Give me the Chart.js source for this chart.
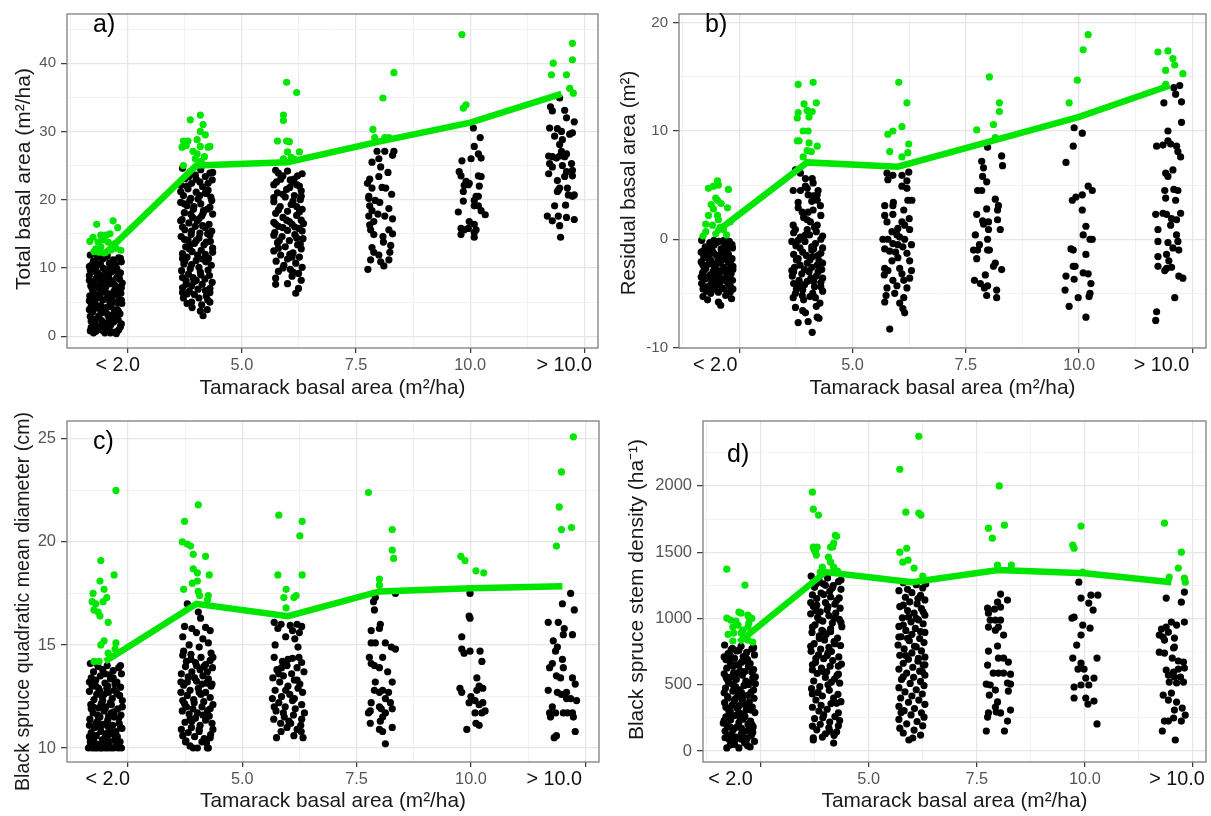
<!DOCTYPE html>
<html>
<head>
<meta charset="utf-8">
<script src="https://cdn.jsdelivr.net/npm/chart.js@4.4.1/dist/chart.umd.min.js"></script>
<style>
  html, body { margin: 0; padding: 0; background: #fff; }
  body { width: 1211px; height: 816px; position: relative; overflow: hidden; }
  .panel { position: absolute; }
  .panel canvas { display: block; }
</style>
</head>
<body>
<div class="panel" style="left:0;top:0"><canvas id="pa" width="605" height="400"></canvas></div>
<div class="panel" style="left:605px;top:0"><canvas id="pb" width="606" height="400"></canvas></div>
<div class="panel" style="left:0;top:400px"><canvas id="pc" width="605" height="416"></canvas></div>
<div class="panel" style="left:605px;top:400px"><canvas id="pd" width="606" height="416"></canvas></div>
<script>
// Tamarack basal-area classes (x position of each jittered column)
const classX = [2, 4, 6, 8, 10, 12];
const xTickValues = [2.5, 5, 7.5, 10, 12.5];
const xTickLabels = ['< 2.0', '5.0', '7.5', '10.0', '> 10.0'];
const xMinorValues = [1.25, 3.75, 6.25, 8.75, 11.25];

// ---- a) Total basal area (m²/ha) ----
const aLine = [12.1, 25.0, 25.5, 28.5, 31.3, 35.5];
const aYTicks = [0, 10, 20, 30, 40];
const aYMinor = [5, 15, 25, 35, 45];
// points per class as [x jitter, value]
const aBlack = [
  [[-0.32,11.9],[0.05,11.8],[-0.15,11.6],[0.3,11.5],[-0.05,11.3],[0.18,11.2],[-0.25,11.0],[0.36,10.9],[0.1,10.7],[-0.1,10.6],
   [-0.3,10.4],[0.12,10.2],[-0.2,10.1],[0.26,9.9],[0.0,9.8],[0.22,9.6],[-0.28,9.5],[0.34,9.3],[0.04,9.2],[-0.12,9.0],
   [-0.34,8.9],[0.08,8.7],[-0.18,8.6],[0.32,8.4],[-0.06,8.3],[0.16,8.1],[-0.24,8.0],[0.38,7.8],[0.12,7.7],[-0.08,7.5],
   [-0.31,7.4],[0.02,7.2],[-0.14,7.1],[0.28,6.9],[-0.02,6.8],[0.2,6.6],[-0.26,6.5],[0.35,6.3],[0.08,6.2],[-0.11,6.0],
   [-0.33,5.9],[0.06,5.7],[-0.16,5.6],[0.31,5.4],[-0.04,5.3],[0.17,5.1],[-0.23,5.0],[0.37,4.8],[0.11,4.7],[-0.09,4.5],
   [-0.3,4.4],[0.03,4.2],[-0.19,4.1],[0.27,3.9],[0.0,3.8],[0.21,3.6],[-0.27,3.5],[0.33,3.3],[0.06,3.2],[-0.13,3.0],
   [-0.32,2.9],[0.09,2.7],[-0.17,2.6],[0.29,2.4],[-0.07,2.3],[0.19,2.1],[-0.22,2.0],[0.36,1.8],[0.13,1.7],[-0.1,1.5],
   [-0.3,1.3],[0.04,1.2],[-0.15,1.0],[0.3,0.9],[-0.04,0.8],[0.22,0.6],[-0.25,0.5],[0.25,0.4],[-0.2,0.7],[0.12,0.5],
   [0.02,11.6],[-0.22,10.8],[0.24,10.5],[-0.04,10.0],[0.14,9.4],[-0.32,9.7],[0.3,8.8],[-0.1,8.2],[0.06,7.9],[-0.28,7.0],
   [0.24,7.3],[0.0,6.5],[-0.2,6.1],[0.14,5.8],[-0.34,5.2],[0.28,4.9],[-0.05,4.0],[0.17,3.1],[-0.25,2.4],[0.0,1.9],
   [0.34,11.4],[-0.18,11.9],[0.18,10.4],[-0.34,10.2],[0.06,9.6],[-0.16,9.3],[0.26,8.6],[-0.02,8.9],[-0.34,8.2],[0.2,7.6],
   [-0.18,7.3],[0.36,7.1],[-0.08,6.6],[0.24,6.1],[-0.3,5.6],[0.04,5.5],[0.36,5.3],[-0.2,4.6],[0.14,4.3],[-0.34,3.9],
   [0.3,3.6],[-0.08,3.4],[0.22,2.8],[-0.3,2.2],[0.06,2.0],[0.34,1.4],[-0.18,1.3],[0.1,0.9],[-0.32,0.8],[0.0,0.5]],
  [[-0.3,24.6],[0.1,24.4],[-0.12,24.1],[0.3,23.9],[-0.02,23.6],[0.2,23.4],[-0.24,23.1],[0.35,22.9],[0.08,22.6],[-0.1,22.4],
   [-0.33,22.1],[0.14,21.9],[-0.18,21.6],[0.26,21.4],[0.0,21.1],[0.22,20.9],[-0.28,20.6],[0.32,20.4],[0.04,20.1],[-0.14,19.9],
   [-0.34,19.6],[0.1,19.4],[-0.2,19.1],[0.3,18.9],[-0.06,18.6],[0.16,18.4],[-0.26,18.1],[0.36,17.9],[0.12,17.6],[-0.08,17.4],
   [-0.31,17.1],[0.02,16.9],[-0.16,16.6],[0.28,16.4],[-0.02,16.1],[0.2,15.9],[-0.25,15.6],[0.34,15.4],[0.08,15.1],[-0.11,14.9],
   [-0.33,14.6],[0.06,14.4],[-0.18,14.1],[0.31,13.9],[-0.04,13.6],[0.17,13.4],[-0.23,13.1],[0.36,12.9],[0.11,12.6],[-0.09,12.4],
   [-0.3,12.1],[0.03,11.9],[-0.2,11.6],[0.27,11.4],[0.0,11.1],[0.21,10.9],[-0.27,10.6],[0.33,10.4],[0.06,10.1],[-0.13,9.9],
   [-0.32,9.6],[0.09,9.4],[-0.17,9.1],[0.29,8.9],[-0.07,8.6],[0.19,8.4],[-0.22,8.1],[0.35,7.9],[0.13,7.6],[-0.1,7.4],
   [-0.3,7.1],[0.04,6.9],[-0.15,6.6],[0.3,6.4],[-0.04,6.1],[0.22,5.9],[-0.28,5.6],[0.25,5.3],[-0.1,5.0],[0.12,4.6],
   [-0.09,4.2],[0.09,3.7],[0.15,3.0],[0.24,3.9],[-0.2,4.8],
   [0.0,23.0],[-0.2,22.0],[0.2,21.0],[-0.05,19.0],[0.15,18.0],[-0.3,16.0],[0.25,15.0],[0.0,14.0],[-0.15,12.8],[0.2,12.0],
   [-0.25,11.0],[0.1,9.0],[-0.05,8.0],[0.3,7.0],[-0.2,6.2],
   [0.36,24.0],[-0.16,23.4],[0.26,22.4],[-0.34,21.2],[0.08,20.6],[-0.12,20.2],[0.34,19.9],[-0.26,19.4],[0.24,18.6],[-0.12,17.9],
   [0.06,17.2],[-0.34,16.9],[0.14,16.2],[-0.1,15.4],[0.3,14.8],[-0.26,14.2],[0.22,13.8],[-0.14,13.4],[0.36,12.3],[-0.3,11.4],
   [0.14,11.3],[-0.1,10.5],[0.26,9.7],[-0.3,8.6],[0.0,8.2],[0.2,6.7],[-0.22,7.6],[0.06,5.6],[-0.3,6.4],[0.3,5.0]],
  [[-0.26,24.3],[-0.2,23.9],[0.0,24.2],[0.22,23.5],[0.26,22.0],[-0.15,23.0],[0.1,22.6],[-0.3,22.2],[0.05,21.8],[0.3,21.3],
   [-0.22,21.0],[0.15,20.6],[-0.05,20.4],[0.28,20.0],[-0.3,19.7],[0.08,19.3],[-0.16,19.0],[0.32,18.6],[0.0,18.3],[-0.26,18.0],
   [0.2,17.7],[-0.1,17.4],[0.3,17.0],[-0.3,16.7],[0.1,16.4],[-0.2,16.1],[0.25,15.8],[0.0,15.5],[-0.28,15.2],[0.16,14.9],
   [-0.12,14.6],[0.34,14.3],[0.04,14.0],[-0.22,13.7],[0.22,13.4],[-0.05,13.1],[0.3,12.8],[-0.3,12.5],[0.12,12.2],[-0.15,11.9],
   [0.26,11.6],[0.0,11.3],[-0.25,11.0],[0.18,10.7],[-0.08,10.4],[0.32,10.1],[0.06,9.8],[-0.2,9.5],[0.24,9.2],[0.1,8.8],
   [-0.26,8.5],[-0.26,7.6],[0.24,7.0],[0.0,7.7],[0.18,6.3],[0.3,8.2],
   [0.14,23.0],[-0.1,20.8],[0.2,19.0],[-0.02,17.0],[0.16,16.0],[-0.18,14.0],[0.05,12.0],[0.28,13.5],[-0.1,10.0],[0.12,9.4],
   [-0.3,14.8],[0.35,16.5],
   [0.32,23.8],[-0.1,23.5],[0.06,22.9],[-0.24,22.6],[0.2,22.2],[-0.02,21.5],[0.3,20.5],[-0.3,20.3],[0.12,19.8],[-0.2,18.5],
   [0.26,18.2],[0.04,16.8],[-0.26,16.4],[0.32,15.4],[-0.1,15.9],[0.2,14.4],[-0.2,12.9],[0.1,11.6]],
  [[-0.04,27.1],[0.13,27.1],[0.33,27.1],[0,26.0],[0.04,24.8],[-0.2,23.0],[0,23.4],[-0.15,21.7],[0.07,21.8],[0.15,21.7],
   [-0.22,20.5],[-0.22,20.2],[0.02,19.6],[-0.2,19.1],[-0.15,18.4],[0.22,18.7],[-0.22,17.6],[0.13,17.6],[-0.11,16.8],[0.22,15.6],
   [-0.18,15.6],[-0.11,14.9],[0.09,14.6],[0.26,13.3],[0.24,12.3],[-0.11,12.3],[0,11.9],[0.04,10.9],[0.22,11.2],[0.11,10.3],
   [-0.18,11.2],[-0.24,9.8],[0.3,26.5],[-0.15,25.5],[0.2,24.0],[-0.25,22.4],[0.28,20.8],[-0.08,19.9],[0.3,17.2],[-0.2,16.3],
   [0.1,13.8],[-0.15,13.0],[0.3,15.0],[-0.02,17.9]],
  [[0.07,30.5],[0.22,29.1],[0.09,27.8],[0.18,26.7],[0.24,26.1],[-0.18,25.7],[0.02,26.0],[-0.24,24.1],[-0.2,23.5],[-0.09,22.7],
   [-0.02,22.4],[0.18,23.5],[0.24,23.4],[-0.15,21.2],[0.13,20.5],[0.18,20.5],[0.2,22.0],[-0.13,22.1],[-0.04,22.2],[-0.15,19.8],
   [-0.26,18.2],[0.09,19.9],[0.09,19.1],[0.18,19.1],[0.24,18.4],[0.33,17.8],[-0.02,16.8],[0.09,16.4],[-0.2,15.8],[-0.13,15.6],
   [-0.2,14.9],[-0.04,15.8],[0.09,15.2],[0.13,15.6],[0.09,14.5]],
  [[-0.04,34.9],[-0.24,33.6],[-0.2,33.0],[0.07,33.1],[0.11,32.0],[0.28,31.4],[-0.26,30.5],[-0.09,30.4],[0,30.0],[0.24,29.8],
   [-0.15,29.3],[0.02,28.8],[0.18,29.6],[-0.04,28.1],[0,27.1],[-0.28,26.4],[-0.2,26.3],[-0.11,26.1],[-0.04,26.4],[0.07,26.3],
   [0.11,26.7],[-0.26,25.3],[-0.2,24.8],[0.02,25.0],[0.22,25.3],[0.24,24.3],[-0.28,23.8],[-0.09,22.8],[0.07,23.4],[0.11,24.1],
   [0.24,23.5],[-0.07,21.4],[0.13,21.7],[0.15,20.7],[0.24,20.5],[-0.04,21.7],[0.28,20.7],[-0.09,21.2],[-0.15,19.1],[0.09,19.2],
   [-0.31,17.6],[-0.2,16.9],[-0.07,17.6],[0.11,17.4],[0.28,17.1],[-0.04,16.2],[-0.02,14.5]]
];
const aGreen = [
  [[-0.18,16.4],[0.18,16.9],[0.28,15.9],[-0.26,14.5],[-0.09,14.8],[0.02,14.8],[-0.15,13.8],[0.07,13.8],[-0.2,12.8],[-0.09,13.1],
   [0.2,13.5],[-0.13,12.3],[-0.02,12.2],[-0.33,13.9],[0.13,12.6],[-0.24,12.4],[0.24,12.9],[0.35,12.6],[-0.04,14.1],[0.11,15.0]],
  [[-0.28,28.6],[-0.18,28.6],[0.02,28.8],[0.09,30.0],[0.15,31.0],[0.09,32.4],[-0.13,31.7],[0.09,27.8],[0.26,27.7],[-0.07,27.1],
   [0.02,26.7],[0.18,26.3],[-0.28,25.0],[-0.31,27.7],[-0.22,27.9],[0.2,29.5],[-0.02,26.0],[0.11,25.6],[0.3,27.8]],
  [[-0.02,37.2],[0.2,35.7],[-0.09,32.4],[-0.09,31.6],[-0.22,28.6],[-0.02,28.6],[0.04,28.5],[0.0,27.0],[0.26,27.0],[-0.09,26.0],
   [0.15,25.9],[0.08,26.2]],
  [[-0.13,30.3],[0.09,34.9],[0.33,38.6],[-0.09,29.1],[0.13,29.1],[0.22,29.1]],
  [[-0.18,44.2],[-0.15,33.4],[-0.09,33.9]],
  [[0.24,42.9],[-0.18,40.0],[0.24,40.5],[-0.22,38.3],[0.11,38.3],[0.18,36.3],[0.26,35.6]]
];

// ---- b) Residual basal area (m²) ----
const bLine = [0.7, 7.1, 6.7, 9.0, 11.3, 14.2];
const bYTicks = [-10, 0, 10, 20];
const bYMinor = [-5, 5, 15];
const bBlack = [
  [[-0.33,-0.1],[0.05,-0.2],[-0.15,-0.3],[0.3,-0.4],[-0.05,-0.5],[0.18,-0.6],[-0.25,-0.7],[0.35,-0.8],[0.1,-0.9],[-0.1,-1.0],
   [-0.3,-1.1],[0.12,-1.2],[-0.2,-1.3],[0.26,-1.4],[0.0,-1.5],[0.22,-1.6],[-0.28,-1.7],[0.34,-1.8],[0.04,-1.9],[-0.12,-2.0],
   [-0.34,-2.1],[0.08,-2.2],[-0.18,-2.3],[0.32,-2.4],[-0.06,-2.5],[0.16,-2.6],[-0.24,-2.7],[0.36,-2.8],[0.12,-2.9],[-0.08,-3.0],
   [-0.31,-3.1],[0.02,-3.2],[-0.14,-3.3],[0.28,-3.4],[-0.02,-3.5],[0.2,-3.6],[-0.26,-3.7],[0.35,-3.8],[0.08,-3.9],[-0.11,-4.0],
   [-0.33,-4.1],[0.06,-4.2],[-0.16,-4.3],[0.31,-4.4],[-0.04,-4.5],[0.17,-4.6],[-0.22,-4.8],[0.3,-4.9],
   [-0.2,-5.6],[-0.13,-5.0],[0.04,-5.8],[0.09,-6.1],[0.2,-5.2],[-0.3,-5.3],[0.33,-5.5],
   [0.0,-0.3],[-0.2,-0.9],[0.22,-1.0],[-0.06,-1.3],[0.14,-1.9],[-0.3,-2.4],[0.3,-2.7],[0.0,-2.8],[-0.2,-3.5],[0.14,-3.7],
   [-0.06,-4.3],[0.26,-4.1],[-0.28,-1.5],[0.28,-0.2],[0.0,-4.0],
   [0.34,-0.5],[-0.12,-0.6],[0.14,-1.2],[-0.34,-1.2],[0.06,-1.7],[-0.16,-1.8],[0.26,-2.1],[-0.02,-2.3],[0.36,-2.5],[-0.28,-2.9],
   [0.2,-3.0],[-0.12,-3.6],[0.32,-3.2],[-0.34,-3.5],[0.06,-3.4],[0.22,-3.9],[-0.26,-4.4],[0.12,-4.5],[0.36,-4.6],[-0.1,-4.7],
   [0.04,-4.9],[-0.3,-4.6],[0.24,-0.8],[-0.06,-0.1],[0.16,-0.1]],
  [[-0.26,6.4],[-0.15,6.1],[-0.04,5.6],[0.11,5.6],[0.13,5.2],[-0.31,4.5],[-0.15,4.5],[0,4.7],[0.02,4.1],[0.13,4.0],
   [0.22,4.1],[-0.04,4.9],[0.24,4.5],[0.22,3.6],[0.29,3.1],[-0.2,2.9],[-0.11,2.5],[0.02,2.5],[0.13,2.7],[-0.31,1.3],
   [-0.26,0.9],[0.07,1.6],[0.22,1.3],
   [-0.26,-6.3],[-0.2,-7.7],[-0.04,-6.8],[0.02,-7.6],[0.11,-8.6],[0.22,-7.2],[0.26,-7.3],[-0.31,-5.4],[-0.11,-5.2],[0.18,-5.4],
   [-0.3,0.6],[0.05,0.4],[-0.15,0.2],[0.3,0.0],[-0.05,-0.2],[0.18,-0.4],[-0.25,-0.6],[0.34,-0.8],[0.1,-1.0],[-0.1,-1.2],
   [-0.3,-1.4],[0.12,-1.6],[-0.2,-1.8],[0.26,-2.0],[0.0,-2.2],[0.22,-2.4],[-0.28,-2.6],[0.32,-2.8],[0.04,-3.0],[-0.12,-3.2],
   [-0.33,-3.4],[0.08,-3.6],[-0.18,-3.8],[0.3,-4.0],[-0.06,-4.2],[0.16,-4.4],[-0.24,-4.6],[0.34,-4.8],[0.12,-5.0],[-0.08,-5.6],
   [0.0,0.9],[0.2,0.7],[-0.2,-0.1],[0.1,-0.7],[-0.02,-1.5],[0.3,-1.3],[-0.16,-2.4],[0.1,-2.6],[-0.3,-3.0],[0.2,-3.4],
   [0.0,-3.9],[-0.2,-4.3],[0.28,-5.9],[-0.1,-6.6],[0.2,-6.2],[0.0,1.8],[-0.2,3.4],[0.1,3.5],[-0.08,2.0],[0.3,2.2],
   [0.34,0.3],[-0.34,-0.2],[0.14,-0.9],[-0.16,-0.8],[0.24,-1.5],[-0.24,-1.9],[0.06,-1.9],[0.34,-2.2],[-0.06,-2.8],[0.24,-3.0],
   [-0.34,-2.9],[0.14,-3.9],[-0.1,-4.7],[0.3,-4.4],[-0.3,-4.1],[0.06,-5.3],[-0.26,-5.0],[0.34,-3.6],[-0.04,0.4],[0.16,1.1]],
  [[-0.24,6.1],[-0.11,5.9],[0.09,5.9],[0.2,5.4],[-0.22,5.5],[0.24,6.2],[0.09,4.9],[0.2,4.7],[0.22,3.6],[-0.29,3.1],
   [-0.11,3.1],[-0.11,2.3],[0.13,2.7],[0.31,3.6],[-0.29,2.2],[-0.24,1.6],[0.09,1.6],[0.15,1.3],[0.26,0.9],[-0.13,0.7],
   [-0.02,0.4],[0.04,0.2],[-0.33,0.0],[-0.22,0.0],[-0.11,-0.4],[0.15,0.0],[-0.29,-0.9],[-0.18,-1.1],[0.11,-0.7],[0.2,-1.3],
   [-0.13,-2.0],[0,-1.7],[0.26,-2.0],[-0.29,-2.7],[-0.22,-2.9],[0.04,-2.7],[0.09,-3.2],[-0.11,-3.8],[0.13,-3.8],[0.26,-3.6],
   [-0.24,-4.5],[-0.02,-4.3],[0.2,-4.5],[-0.26,-5.2],[-0.07,-5.0],[0.13,-5.4],[-0.29,-5.8],[0.04,-5.9],[0.11,-6.4],[0.15,-6.8],
   [-0.18,-8.3],[0.0,1.0],[-0.05,-1.2],[0.3,-0.5],[-0.3,-3.3],[0.3,-2.9],[0.0,-0.5],[-0.1,3.4],[0.25,1.9]],
  [[-0.02,8.5],[0.29,7.7],[0.31,6.8],[-0.15,7.2],[-0.11,6.6],[-0.13,5.8],[-0.04,5.3],[-0.24,4.5],[-0.15,4.5],[0.15,3.7],
   [0.22,3.1],[0.2,2.7],[-0.04,2.8],[-0.26,2.3],[-0.13,1.7],[0,1.6],[-0.11,1.4],[0.2,1.8],[0.26,0.9],[-0.29,0.4],
   [0,0.9],[-0.02,0.0],[-0.2,-0.5],[-0.33,-1.0],[-0.24,-1.0],[-0.02,-1.0],[0.02,-1.0],[-0.26,-1.8],[0.15,-2.2],[0.11,-2.5],
   [0.29,-2.8],[-0.07,-3.3],[-0.31,-3.8],[-0.18,-4.1],[-0.09,-4.5],[-0.02,-4.3],[0.18,-4.7],[-0.04,-5.2],[0.18,-5.4]],
  [[-0.11,10.3],[0.07,9.8],[-0.13,8.6],[-0.29,7.1],[0.2,4.9],[0.29,4.5],[-0.15,3.6],[-0.07,3.9],[0.07,4.1],[0.07,2.7],
   [0.15,1.2],[0.09,0.4],[0.29,0.0],[0.24,0.0],[-0.18,-0.9],[-0.13,-1.0],[0.15,-1.4],[-0.29,-3.4],[-0.11,-3.7],[-0.13,-2.5],
   [-0.09,-2.5],[0.09,-3.1],[0.2,-3.2],[0.26,-4.1],[-0.31,-4.7],[-0.02,-5.4],[0.24,-5.0],[0.22,-5.3],[-0.22,-6.2],[0.15,-7.2]],
  [[0.09,14.0],[0.22,14.2],[0.13,13.4],[-0.13,12.6],[0.26,12.7],[0.26,10.8],[-0.04,10.0],[-0.29,8.6],[-0.15,8.7],[-0.04,9.1],
   [0.02,8.8],[0.15,8.6],[0.18,8.1],[0.24,7.6],[-0.09,6.1],[-0.04,5.8],[0.07,6.4],[-0.11,4.5],[0.09,4.6],[0.18,4.5],
   [-0.09,3.8],[0.13,3.6],[-0.31,2.3],[-0.15,2.4],[-0.07,2.3],[0.04,1.9],[0.15,1.8],[0.24,2.4],[-0.26,0.9],[0.02,1.3],
   [0.15,0.4],[-0.26,-0.2],[-0.04,-0.3],[0.07,-0.8],[0.18,-0.2],[0.2,-1.0],[-0.26,-1.6],[-0.07,-1.4],[-0.02,-2.0],[-0.26,-2.5],
   [-0.07,-2.7],[-0.11,-2.9],[0.04,-2.6],[0.2,-3.4],[0.29,-3.6],[0.11,-5.4],[-0.29,-6.7],[-0.31,-7.5]]
];
const bGreen = [
  [[-0.18,4.7],[-0.07,4.9],[0.02,5.4],[0.04,5.0],[0.26,4.6],[-0.02,3.8],[0.02,3.6],[-0.07,2.8],[0.24,2.9],[-0.18,2.2],
   [0.02,2.2],[0.04,1.8],[-0.24,1.4],[-0.09,1.3],[0.15,0.9],[-0.24,0.7],[-0.02,0.5],[0.22,0.4],[0.1,3.3],[-0.12,3.2],
   [0.3,1.6],[-0.3,0.3],[0.08,1.1]],
  [[-0.2,14.3],[0.13,14.5],[-0.07,12.5],[0,11.9],[-0.2,11.7],[-0.22,11.2],[0.04,11.3],[0.11,11.8],[0.2,12.6],[-0.09,10.0],
   [0.02,10.0],[-0.22,9.1],[-0.18,9.1],[0.04,8.9],[0.22,8.6],[0,8.2],[0.09,8.1],[-0.09,7.6]],
  [[0.02,14.5],[0.2,12.6],[0.09,10.4],[-0.22,9.7],[-0.11,10.0],[0.24,8.8],[-0.18,8.1],[0.22,8.0],[0.09,7.6]],
  [[0.02,15.0],[0.24,12.6],[0.24,11.8],[0.11,10.6],[-0.26,10.1],[0.15,9.4]],
  [[0.2,18.9],[0.09,17.5],[-0.04,14.7],[-0.22,12.6]],
  [[-0.26,17.3],[-0.04,17.4],[0.07,16.7],[0.11,16.1],[-0.09,15.6],[0.29,15.3],[-0.09,14.3]]
];

// ---- c) Black spruce quadratic mean diameter (cm) ----
const cLine = [14.2, 17.0, 16.4, 17.6, 17.75, 17.85];
const cYTicks = [10, 15, 20, 25];
const cYMinor = [12.5, 17.5, 22.5];
const cBlack = [
  [[-0.32,14.1],[0.05,14.0],[-0.15,13.95],[0.3,13.9],[-0.05,13.8],[0.18,13.75],[-0.25,13.7],[0.36,13.6],[0.1,13.55],[-0.1,13.5],
   [-0.3,13.4],[0.12,13.35],[-0.2,13.3],[0.26,13.2],[0.0,13.15],[0.22,13.1],[-0.28,13.0],[0.34,12.95],[0.04,12.9],[-0.12,12.8],
   [-0.34,12.75],[0.08,12.7],[-0.18,12.6],[0.32,12.55],[-0.06,12.5],[0.16,12.4],[-0.24,12.35],[0.38,12.3],[0.12,12.2],[-0.08,12.15],
   [-0.31,12.1],[0.02,12.0],[-0.14,11.95],[0.28,11.9],[-0.02,11.8],[0.2,11.75],[-0.26,11.7],[0.35,11.6],[0.08,11.55],[-0.11,11.5],
   [-0.33,11.4],[0.06,11.35],[-0.16,11.3],[0.31,11.2],[-0.04,11.15],[0.17,11.1],[-0.23,11.0],[0.37,10.95],[0.11,10.9],[-0.09,10.8],
   [-0.3,10.75],[0.03,10.7],[-0.19,10.6],[0.27,10.55],[0.0,10.5],[0.21,10.4],[-0.27,10.35],[0.33,10.3],[0.06,10.2],[-0.13,10.15],
   [-0.32,10.1],[0.09,10.05],[-0.17,10.0],[0.29,10.0],[-0.07,10.0],[0.19,10.0],[-0.22,10.0],[0.36,10.0],[0.13,10.0],[-0.1,10.0],
   [-0.28,10.0],[0.0,10.0],
   [0.0,13.6],[-0.2,13.0],[0.2,12.8],[-0.05,12.3],[0.14,11.7],[-0.3,11.9],[0.3,11.45],[-0.1,11.0],[0.06,10.6],[-0.25,10.45],
   [0.24,10.8],[0.0,11.9],[-0.2,11.2],[0.14,12.1],[-0.34,10.55],
   [0.34,14.0],[-0.18,14.1],[0.18,13.4],[-0.34,13.2],[0.06,13.0],[-0.14,12.9],[0.26,12.65],[-0.02,12.6],[0.38,12.0],[-0.26,12.0],
   [0.2,11.5],[-0.16,11.6],[0.34,11.0],[-0.34,11.1],[0.06,11.05],[-0.06,10.4],[0.16,10.7],[-0.32,10.3],[0.28,10.2],[0.0,10.3],
   [-0.2,10.2],[0.1,10.3],[-0.36,10.0],[0.24,10.1],[0.06,10.0]],
  [[-0.2,17.0],[0.04,16.6],[0.09,16.3],[-0.26,15.9],[-0.1,15.8],[0.2,15.85],[0.3,15.7],[0.0,15.6],[-0.3,15.4],[0.14,15.3],
   [0.26,15.1],[-0.16,15.0],[0.06,14.9],[-0.28,14.7],[0.32,14.6],
   [-0.3,14.5],[0.1,14.4],[-0.12,14.3],[0.3,14.25],[-0.02,14.15],[0.2,14.05],[-0.24,13.95],[0.35,13.9],[0.08,13.8],[-0.1,13.7],
   [-0.33,13.6],[0.14,13.5],[-0.18,13.45],[0.26,13.35],[0.0,13.25],[0.22,13.15],[-0.28,13.05],[0.32,13.0],[0.04,12.9],[-0.14,12.8],
   [-0.34,12.7],[0.1,12.6],[-0.2,12.55],[0.3,12.45],[-0.06,12.35],[0.16,12.25],[-0.26,12.15],[0.36,12.1],[0.12,12.0],[-0.08,11.9],
   [-0.31,11.8],[0.02,11.7],[-0.16,11.65],[0.28,11.55],[-0.02,11.45],[0.2,11.35],[-0.25,11.25],[0.34,11.2],[0.08,11.1],[-0.11,11.0],
   [-0.33,10.9],[0.06,10.8],[-0.18,10.75],[0.31,10.65],[-0.04,10.55],[0.17,10.45],[-0.23,10.35],[0.3,10.5],[-0.24,10.3],[-0.07,10.0],
   [0.02,10.0],[0.24,10.0],[0.26,10.0],
   [0.0,14.0],[-0.2,13.2],[0.2,12.7],[-0.05,12.2],[0.14,11.6],[-0.3,12.3],[0.3,11.9],[-0.1,11.3],[0.06,10.9],[0.24,13.7],
   [-0.12,14.55],[0.12,13.1],
   [0.36,14.4],[-0.22,14.2],[0.16,13.95],[-0.04,13.4],[0.34,13.1],[-0.34,13.2],[0.06,12.7],[-0.22,12.0],[0.24,11.8],[-0.14,11.4],
   [0.36,10.9],[-0.3,10.6],[0.12,10.3],[-0.14,10.1],[0.22,10.25]],
  [[-0.3,16.1],[-0.15,16.0],[0.05,15.95],[0.2,16.0],[0.3,15.9],[-0.22,15.8],[0.1,15.7],[0.25,15.6],[-0.05,15.4],[0.15,15.3],
   [-0.28,15.0],[0.22,14.9],
   [-0.3,14.4],[0.1,14.35],[-0.12,14.2],[0.3,14.15],[-0.02,14.0],[0.2,13.9],[-0.24,13.8],[0.35,13.7],[0.08,13.6],[-0.1,13.5],
   [-0.33,13.4],[0.14,13.3],[-0.18,13.2],[0.26,13.1],[0.0,13.0],[0.22,12.9],[-0.28,12.8],[0.32,12.7],[0.04,12.6],[-0.14,12.5],
   [-0.34,12.4],[0.1,12.3],[-0.2,12.2],[0.3,12.1],[-0.06,12.0],[0.16,11.9],[-0.26,11.8],[0.36,11.7],[0.12,11.6],[-0.08,11.5],
   [-0.31,11.4],[0.02,11.3],[-0.16,11.2],[0.28,11.1],[-0.02,11.0],[0.2,10.9],[-0.25,10.5],[-0.15,10.8],[0.13,10.6],[0.29,10.8],
   [0.33,10.5],
   [0.0,14.3],[-0.2,13.6],[0.2,13.3],[-0.05,12.8],[0.14,12.4],[-0.3,12.0],[0.3,11.4],[-0.1,11.7],[0.06,11.2],[0.24,14.4],
   [-0.14,13.9]],
  [[0.35,17.5],[-0.09,17.3],[-0.13,17.1],[-0.11,16.7],[0.02,16.0],[0,15.8],[-0.18,15.7],[-0.18,15.1],[-0.09,15.1],[0.13,15.1],
   [0.26,14.9],[0.35,14.8],[-0.22,14.4],[-0.18,14.1],[-0.11,14.0],[0,13.9],[0.07,14.4],[0.18,13.7],[-0.09,13.2],[0.28,13.2],
   [-0.11,12.8],[0.07,12.8],[0.2,12.7],[0.13,12.4],[-0.18,12.2],[0,12.7],[-0.24,11.7],[-0.2,11.8],[0,12.0],[0.04,11.9],
   [0.13,11.7],[0.24,12.2],[0.28,11.9],[0.07,11.5],[0.02,11.3],[-0.2,11.2],[0,10.9],[0.07,10.8],[0.28,11.0],[0.13,10.2]],
  [[-0.02,17.5],[-0.04,16.4],[-0.02,16.3],[-0.2,15.4],[-0.2,14.8],[-0.15,14.6],[-0.02,14.7],[0.2,14.7],[0.24,14.2],[0.13,13.4],
   [0.18,13.0],[0.13,12.8],[0.26,12.9],[-0.24,12.9],[-0.2,12.7],[0,12.5],[-0.04,12.2],[0.09,12.3],[0.18,12.1],[0.26,12.2],
   [0.31,11.8],[0.09,11.7],[0.24,11.7],[0.11,11.2],[0.18,11.1],[-0.09,10.9]],
  [[0.18,17.5],[0,17.0],[0.26,16.7],[-0.31,16.1],[-0.09,16.1],[0.04,15.8],[0.02,15.5],[0.22,15.5],[-0.2,15.2],[-0.11,14.9],
   [-0.15,14.7],[0,14.3],[-0.22,14.1],[-0.28,13.9],[0.02,13.9],[-0.13,13.5],[-0.04,13.4],[0.22,13.4],[0.28,13.1],[-0.31,12.8],
   [-0.11,12.7],[-0.02,12.6],[0.09,12.7],[0.09,12.4],[0.18,12.4],[0.31,12.3],[-0.22,12.0],[-0.28,11.7],[-0.15,11.7],[0.02,11.7],
   [0.11,11.7],[0.22,11.7],[0.24,11.5],[-0.26,11.5],[-0.13,10.6],[-0.18,10.5],[0.28,10.8]]
];
const cGreen = [
  [[0.24,22.5],[-0.09,19.1],[-0.11,18.1],[-0.02,17.7],[0.2,18.4],[-0.26,17.5],[-0.28,17.1],[-0.2,17.0],[-0.04,17.1],[0.04,17.3],
   [-0.24,16.7],[-0.15,16.6],[-0.11,16.4],[0.07,16.1],[-0.02,15.2],[-0.09,15.0],[0.24,15.1],[0.22,14.8],[0.07,14.6],[-0.24,14.2],
   [-0.13,14.2]],
  [[0.04,21.8],[-0.26,21.0],[-0.31,20.0],[-0.2,19.9],[-0.13,19.8],[-0.07,19.4],[0.2,19.3],[-0.07,18.7],[0.02,18.5],[0.28,18.4],
   [-0.09,18.0],[0.02,18.1],[-0.28,17.7],[0.04,17.6],[0.07,17.4],[0.26,17.4],[0.24,17.2]],
  [[-0.2,21.3],[0.31,21.0],[0.26,20.3],[-0.22,18.4],[0.31,18.4],[-0.04,17.7],[0.18,17.4],[0.13,17.3],[-0.09,17.3],[-0.04,16.8]],
  [[-0.24,22.4],[0.28,20.6],[0.28,19.6],[0.31,19.2],[0,18.2],[0,17.9]],
  [[-0.22,19.3],[-0.13,19.1],[0.11,18.6],[0.28,18.5]],
  [[0.24,25.1],[-0.02,23.4],[-0.07,21.7],[-0.02,20.6],[0.2,20.7],[-0.13,19.8]]
];

// ---- d) Black spruce stem density (ha⁻¹) ----
const dLine = [820, 1350, 1274, 1365, 1342, 1274];
const dYTicks = [0, 500, 1000, 1500, 2000];
const dYMinor = [250, 750, 1250, 1750, 2250];
const dBlack = [
  [[-0.33,800],[0.05,790],[-0.15,775],[0.3,770],[-0.05,755],[0.18,745],[-0.25,735],[0.36,725],[0.1,712],[-0.1,700],
   [-0.3,690],[0.12,680],[-0.2,668],[0.26,660],[0.0,648],[0.22,638],[-0.28,625],[0.34,615],[0.04,605],[-0.12,592],
   [-0.34,582],[0.08,572],[-0.18,560],[0.32,550],[-0.06,540],[0.16,528],[-0.24,518],[0.38,508],[0.12,495],[-0.08,485],
   [-0.31,475],[0.02,462],[-0.14,452],[0.28,442],[-0.02,430],[0.2,420],[-0.26,410],[0.35,398],[0.08,388],[-0.11,378],
   [-0.33,365],[0.06,355],[-0.16,345],[0.31,332],[-0.04,322],[0.17,312],[-0.23,300],[0.37,290],[0.11,280],[-0.09,268],
   [-0.3,258],[0.03,248],[-0.19,235],[0.27,225],[0.0,215],[0.21,202],[-0.27,192],[0.33,182],[0.06,170],[-0.13,160],
   [-0.32,150],[0.09,138],[-0.17,128],[0.29,118],[-0.07,105],[0.19,95],[-0.22,85],[0.36,72],[0.13,62],[-0.1,50],
   [-0.28,23],[0.0,23],[0.26,30],[0.2,40],[-0.2,45],
   [0.0,760],[-0.2,720],[0.2,690],[-0.05,650],[0.14,600],[-0.3,560],[0.3,520],[-0.1,470],[0.06,440],[-0.25,400],
   [0.24,370],[0.0,340],[-0.2,300],[0.14,260],[-0.34,230],[0.3,200],[-0.05,180],[0.2,150],[-0.25,110],[0.05,90],
   [0.34,780],[-0.18,765],[0.16,705],[-0.34,710],[0.06,670],[-0.14,640],[0.3,595],[-0.02,590],[0.38,560],[-0.28,545],
   [0.22,500],[-0.16,505],[0.34,460],[-0.34,440],[0.06,410],[-0.08,395],[0.16,350],[-0.3,330],[0.28,310],[0.0,290],
   [-0.2,270],[0.1,240],[-0.36,210],[0.24,180],[0.06,130],[-0.2,180],[0.32,140],[-0.1,80],[0.16,60],[-0.32,100]],
  [[-0.33,1320],[0.05,1305],[-0.15,1290],[0.3,1278],[-0.05,1262],[0.18,1248],[-0.25,1235],[0.36,1220],[0.1,1205],[-0.1,1192],
   [-0.3,1178],[0.12,1162],[-0.2,1150],[0.26,1135],[0.0,1120],[0.22,1108],[-0.28,1092],[0.34,1078],[0.04,1065],[-0.12,1050],
   [-0.34,1035],[0.08,1022],[-0.18,1008],[0.32,994],[-0.06,980],[0.16,965],[-0.24,952],[0.38,938],[0.12,922],[-0.08,910],
   [-0.31,895],[0.02,880],[-0.14,868],[0.28,852],[-0.02,838],[0.2,825],[-0.26,810],[0.35,796],[0.08,782],[-0.11,768],
   [-0.33,752],[0.06,740],[-0.16,725],[0.31,710],[-0.04,697],[0.17,682],[-0.23,668],[0.37,655],[0.11,640],[-0.09,625],
   [-0.3,612],[0.03,598],[-0.19,585],[0.27,570],[0.0,555],[0.21,542],[-0.27,528],[0.33,512],[0.06,500],[-0.13,485],
   [-0.32,470],[0.09,458],[-0.17,442],[0.29,428],[-0.07,415],[0.19,400],[-0.22,385],[0.36,372],[0.13,358],[-0.1,345],
   [-0.3,330],[0.04,315],[-0.15,302],[0.3,288],[-0.04,272],[0.22,260],[-0.25,245],[0.33,230],[0.1,218],[-0.12,202],
   [-0.3,188],[0.08,175],[-0.2,160],[0.26,145],[0.0,130],[0.2,118],[-0.28,100],[-0.07,105],[-0.28,83],[0.19,60],
   [0.3,190],[0.0,1250],[-0.2,1100],[0.2,1000],[-0.05,900],[0.14,750],[-0.3,650],[0.3,580],
   [0.36,1290],[-0.2,1265],[0.16,1230],[-0.04,1180],[0.32,1155],[-0.34,1120],[0.06,1090],[-0.22,1060],[0.24,1040],[-0.14,990],
   [0.36,970],[-0.3,935],[0.12,900],[-0.14,850],[0.22,810],[-0.34,790],[0.04,720],[-0.22,700],[0.3,640],[-0.06,600],
   [0.14,520],[-0.3,430],[0.26,360],[-0.06,250],[0.1,150]],
  [[-0.2,1270],[0.1,1255],[0.25,1230],[-0.3,1210],[0.0,1195],[0.2,1175],[-0.15,1160],[0.3,1140],[-0.05,1125],[0.12,1110],
   [-0.28,1090],[0.22,1075],[-0.1,1060],[0.05,1040],[0.3,1025],[-0.22,1005],[0.15,990],[-0.02,975],[0.26,960],[-0.3,940],
   [0.08,925],[-0.14,910],[0.3,895],[0.0,880],[-0.25,862],[0.18,848],[-0.06,832],[0.28,818],[-0.32,800],[0.1,786],
   [-0.18,770],[0.22,755],[0.0,740],[-0.28,722],[0.3,708],[-0.08,692],[0.14,678],[-0.2,662],[0.26,648],[0.02,632],
   [-0.3,618],[0.18,602],[-0.12,588],[0.3,572],[0.04,556],[-0.24,540],[0.2,525],[-0.04,510],[0.28,494],[-0.3,478],
   [0.1,462],[-0.16,446],[0.24,430],[0.0,415],[-0.26,400],[0.16,384],[-0.08,368],[0.3,352],[-0.3,336],[0.06,320],
   [-0.18,304],[0.22,288],[-0.02,272],[0.28,255],[-0.3,238],[0.12,222],[-0.12,205],[0.25,190],[-0.28,172],[0.05,158],
   [-0.2,136],[-0.07,83],[0.02,98],[0.2,120],[-0.25,290],[0.3,650],[-0.1,850],[0.1,1000],[-0.2,950],[0.15,700],
   [0.32,1260],[-0.1,1220],[0.14,1150],[-0.2,1100],[0.26,1050],[-0.08,1010],[0.2,900],[-0.3,860],[0.06,790],[-0.14,720],
   [0.24,600],[-0.2,560]],
  [[0.05,1184],[0.21,1139],[-0.02,1123],[-0.25,1078],[-0.09,1070],[0.05,1086],[-0.23,1040],[-0.19,988],[-0.07,988],[0.05,988],
   [0,935],[-0.23,935],[-0.07,912],[0.12,875],[-0.23,754],[-0.02,792],[0,701],[0.12,701],[0.23,671],[-0.25,648],
   [-0.12,588],[0,588],[0.12,588],[0.28,580],[-0.28,505],[-0.19,498],[0.21,513],[0.28,505],[-0.21,422],[-0.07,460],
   [0.23,452],[-0.02,370],[-0.07,332],[-0.23,287],[-0.25,256],[-0.05,294],[0.05,287],[0.28,309],[0.21,226],[-0.28,151],
   [0.14,151]],
  [[-0.14,1274],[-0.09,1154],[0.14,1176],[0.3,1176],[0.09,1116],[0.19,1063],[-0.25,1010],[-0.3,1003],[-0.05,950],[0.12,927],
   [-0.09,875],[-0.19,799],[-0.28,701],[0.28,701],[-0.09,663],[-0.16,618],[-0.02,618],[0.02,550],[0.21,550],[-0.25,483],
   [-0.09,498],[0.09,498],[-0.25,400],[0.02,400],[0.07,354],[0.21,377],[0.28,204]],
  [[0.3,1199],[-0.12,1154],[0.23,1123],[0,973],[0.12,950],[0.3,973],[-0.23,920],[-0.12,935],[-0.07,897],[0.07,852],
   [-0.28,875],[-0.19,860],[-0.16,837],[0.07,784],[0.05,777],[-0.28,746],[-0.16,739],[0.02,701],[0.16,679],[0.28,671],
   [-0.12,611],[0.05,596],[0.16,618],[0.3,626],[-0.07,573],[0.07,558],[0.21,558],[-0.05,520],[0.12,513],[0.28,520],
   [-0.19,422],[0,437],[-0.07,384],[0.12,369],[0.07,309],[0.25,324],[-0.16,226],[-0.07,226],[0.05,249],[0.23,226],
   [0.32,271],[-0.21,151],[0.09,83]]
];
const dGreen = [
  [[-0.28,1372],[0.14,1252],[-0.28,1003],[-0.19,988],[-0.07,980],[0,1048],[0.05,1040],[0.21,1025],[0.23,1010],[-0.14,935],
   [-0.02,950],[0.09,912],[0.21,935],[0.23,965],[-0.12,890],[0.05,890],[-0.14,830],[0.21,837],[0.32,822],[-0.25,880],
   [0.3,1000],[0.1,850]],
  [[-0.3,1953],[-0.28,1825],[-0.16,1780],[-0.28,1538],[-0.19,1538],[-0.23,1500],[-0.21,1478],[0.12,1538],[0.19,1568],[0.23,1628],
   [0.07,1463],[0.12,1425],[-0.07,1387],[0.19,1387],[-0.12,1350],[0.28,1357],[0.26,1620],[0.17,1540],[-0.26,1520]],
  [[-0.28,2126],[0.16,2375],[-0.14,1802],[0.16,1795],[0.21,1780],[-0.28,1500],[-0.12,1530],[-0.21,1425],[0.05,1380],[0.25,1320],
   [-0.09,1440]],
  [[0.02,2000],[0.14,1704],[-0.23,1681],[-0.14,1606],[-0.02,1402],[0.3,1402]],
  [[-0.09,1697],[-0.28,1553],[-0.25,1530],[-0.05,1350]],
  [[-0.16,1719],[0.23,1500],[0.16,1380],[0.3,1304],[0.32,1274],[-0.05,1312]]
];

const FONT = '"Liberation Sans", Arial, Helvetica, sans-serif';
const GREEN = '#00e600';

// Flatten the per-class [jitter, value] lists into scatter points
function toPoints(groups) {
  const pts = [];
  groups.forEach((g, i) => g.forEach(p => pts.push({ x: classX[i] + p[0], y: p[1] })));
  return pts;
}

// Panel frame, tag, open-ended class labels and axis titles
const panelDecor = {
  id: 'panelDecor',
  afterDatasetsDraw(chart, args, o) {
    const { ctx, chartArea: a } = chart;
    ctx.save();
    ctx.strokeStyle = '#7f7f7f';
    ctx.lineWidth = 1.3;
    ctx.strokeRect(a.left, a.top, a.right - a.left, a.bottom - a.top);
    ctx.restore();
  },
  afterDraw(chart, args, o) {
    const { ctx, chartArea: a, scales } = chart;
    ctx.save();
    // open-ended classes "< 2.0" and "> 10.0", set in black and larger
    ctx.fillStyle = '#111';
    ctx.textAlign = 'center';
    ctx.textBaseline = 'alphabetic';
    ctx.font = '19.8px ' + FONT;
    ctx.fillText(xTickLabels[0], scales.x.getPixelForValue(xTickValues[0]) + o.endShift[0], a.bottom + 22.5);
    ctx.fillText(xTickLabels[4], scales.x.getPixelForValue(xTickValues[4]) + o.endShift[1], a.bottom + 22.5);
    // panel tag
    ctx.fillStyle = '#000';
    ctx.textAlign = 'left';
    ctx.textBaseline = 'middle';
    ctx.font = '25px ' + FONT;
    ctx.fillText(o.tag, o.tagX, o.tagY);
    // axis titles
    ctx.fillStyle = '#1a1a1a';
    ctx.textAlign = 'center';
    ctx.font = '20.8px ' + FONT;
    ctx.fillText(o.xTitle, (a.left + a.right) / 2, o.xTitleY);
    ctx.font = o.yTitleSize + 'px ' + FONT;
    ctx.translate(o.yTitleX, (a.top + a.bottom) / 2 + o.yTitleShift);
    ctx.rotate(-Math.PI / 2);
    ctx.fillText(o.yTitle, 0, 0);
    ctx.restore();
  }
};

const tickVal = c => (c && c.tick) ? c.tick.value : NaN;

function makePanel(spec) {
  const isMajorX = v => xTickValues.includes(v);
  const isMajorY = v => spec.yTicks.includes(v);
  const isEndX = v => v === 2.5 || v === 12.5;
  const cfg = {
    type: 'scatter',
    data: {
      datasets: [
        { type: 'line', data: classX.map((x, i) => ({ x, y: spec.line[i] })), borderColor: GREEN,
          borderWidth: 6.5, pointRadius: 0, tension: 0, fill: false, borderCapStyle: 'butt' },
        { data: toPoints(spec.green), backgroundColor: GREEN, pointRadius: 3.6, borderWidth: 0 },
        { data: toPoints(spec.black), backgroundColor: '#000', pointRadius: 3.6, borderWidth: 0 }
      ]
    },
    options: {
      responsive: false,
      animation: false,
      events: [],
      layout: { autoPadding: false, padding: { left: 0, top: spec.area.t, right: spec.W - spec.area.r, bottom: 0 } },
      plugins: { legend: { display: false }, tooltip: { enabled: false }, panelDecor: spec.decor },
      scales: {
        x: {
          type: 'linear', min: 1.17, max: 12.8,
          afterBuildTicks: s => { s.ticks = xMinorValues.concat(xTickValues).sort((p, q) => p - q).map(v => ({ value: v })); },
          afterFit: s => { s.height = spec.H - spec.area.b; },
          border: { display: false },
          grid: {
            color: c => isMajorX(tickVal(c)) ? '#e6e6e6' : '#f1f1f1',
            lineWidth: c => isMajorX(tickVal(c)) ? 1.3 : 0.9,
            drawTicks: true, tickLength: 5, tickWidth: 1.2,
            tickColor: c => isMajorX(tickVal(c)) ? '#333' : 'rgba(0,0,0,0)'
          },
          ticks: {
            autoSkip: false, maxRotation: 0, padding: 3,
            callback: v => { const i = xTickValues.indexOf(v); return (i < 0 || isEndX(v)) ? '' : xTickLabels[i]; },
            color: '#555',
            font: { family: FONT, size: 16.3 }
          }
        },
        y: {
          type: 'linear', min: spec.yMin, max: spec.yMax,
          afterBuildTicks: s => { s.ticks = spec.yMinor.concat(spec.yTicks).sort((p, q) => p - q).map(v => ({ value: v })); },
          afterFit: s => { s.width = spec.area.l; },
          border: { display: false },
          grid: {
            color: c => isMajorY(tickVal(c)) ? '#e6e6e6' : '#f1f1f1',
            lineWidth: c => isMajorY(tickVal(c)) ? 1.3 : 0.9,
            drawTicks: true, tickLength: 6, tickWidth: 1.2,
            tickColor: c => isMajorY(tickVal(c)) ? '#333' : 'rgba(0,0,0,0)'
          },
          ticks: {
            autoSkip: false, padding: 5,
            callback: v => isMajorY(v) ? String(v) : '',
            color: '#555',
            font: { family: FONT, size: spec.yFont }
          }
        }
      }
    },
    plugins: [panelDecor]
  };
  return new Chart(document.getElementById(spec.id), cfg);
}

makePanel({ id: 'pa', W: 605, H: 400, area: { l: 67, t: 7, r: 598, b: 348 },
  yMin: -1.72, yMax: 47.2, yTicks: aYTicks, yMinor: aYMinor, yFont: 15,
  line: aLine, black: aBlack, green: aGreen,
  decor: { tag: 'a)', tagX: 93, tagY: 25, endShift: [-10, -20], xTitleY: 388,
           xTitle: 'Tamarack basal area (m²/ha)', yTitle: 'Total basal area (m²/ha)',
           yTitleX: 24, yTitleSize: 21, yTitleShift: -2 } });

makePanel({ id: 'pb', W: 606, H: 400, area: { l: 74, t: 7, r: 601, b: 348 },
  yMin: -10.05, yMax: 20.81, yTicks: bYTicks, yMinor: bYMinor, yFont: 15,
  line: bLine, black: bBlack, green: bGreen,
  decor: { tag: 'b)', tagX: 100, tagY: 25, endShift: [-24, -31], xTitleY: 388,
           xTitle: 'Tamarack basal area (m²/ha)', yTitle: 'Residual basal area (m²)',
           yTitleX: 24, yTitleSize: 20.5, yTitleShift: 2 } });

makePanel({ id: 'pc', W: 605, H: 416, area: { l: 67, t: 21, r: 599, b: 362 },
  yMin: 9.32, yMax: 25.87, yTicks: cYTicks, yMinor: cYMinor, yFont: 16.5,
  line: cLine, black: cBlack, green: cGreen,
  decor: { tag: 'c)', tagX: 93, tagY: 42, endShift: [-20, -31], xTitleY: 401,
           xTitle: 'Tamarack basal area (m²/ha)', yTitle: 'Black spruce quadratic mean diameter (cm)',
           yTitleX: 24, yTitleSize: 19.6, yTitleShift: 10 } });

makePanel({ id: 'pd', W: 606, H: 416, area: { l: 98, t: 21, r: 601, b: 362 },
  yMin: -83, yMax: 2490, yTicks: dYTicks, yMinor: dYMinor, yFont: 16.5,
  line: dLine, black: dBlack, green: dGreen,
  decor: { tag: 'd)', tagX: 122, tagY: 55, endShift: [-30, -16], xTitleY: 401,
           xTitle: 'Tamarack basal area (m²/ha)', yTitle: 'Black spruce stem density (ha⁻¹)',
           yTitleX: 32, yTitleSize: 21, yTitleShift: -2 } });
</script>
</body>
</html>
